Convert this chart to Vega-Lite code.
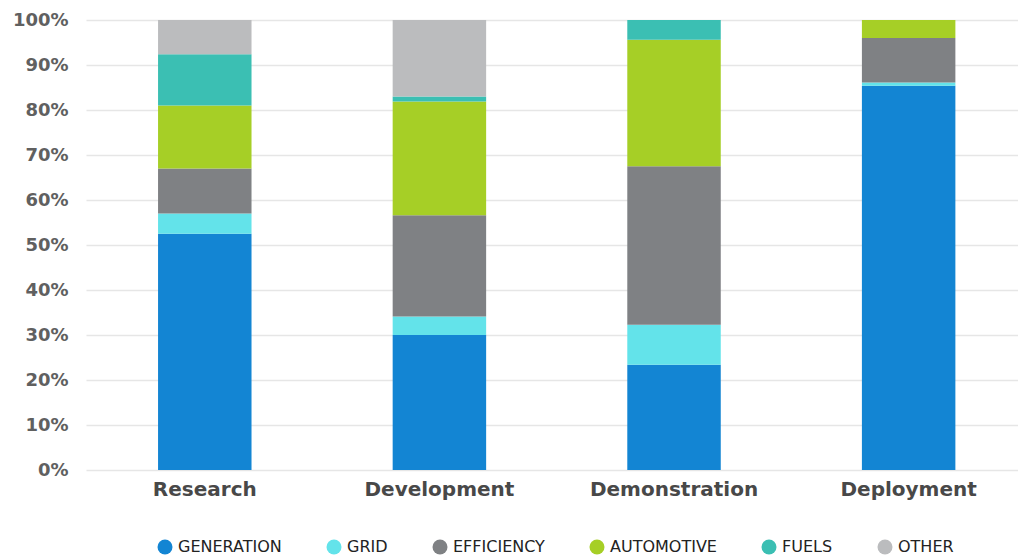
{
  "$schema": "https://vega.github.io/schema/vega-lite/v6.json",
  "width": 932,
  "height": 450,
  "autosize": {"type": "none"},
  "padding": {"left": 86, "top": 20, "right": 0, "bottom": 86},
  "background": "white",
  "config": {
    "view": {"stroke": null},
    "font": "DejaVu Sans"
  },
  "data": {
    "values": [
      {"stage": "Research", "sector": "GENERATION", "share": 52.5},
      {"stage": "Research", "sector": "GRID", "share": 4.5},
      {"stage": "Research", "sector": "EFFICIENCY", "share": 10},
      {"stage": "Research", "sector": "AUTOMOTIVE", "share": 14},
      {"stage": "Research", "sector": "FUELS", "share": 11.4},
      {"stage": "Research", "sector": "OTHER", "share": 7.6},
      {"stage": "Development", "sector": "GENERATION", "share": 30},
      {"stage": "Development", "sector": "GRID", "share": 4.1},
      {"stage": "Development", "sector": "EFFICIENCY", "share": 22.5},
      {"stage": "Development", "sector": "AUTOMOTIVE", "share": 25.3},
      {"stage": "Development", "sector": "FUELS", "share": 1.1},
      {"stage": "Development", "sector": "OTHER", "share": 17},
      {"stage": "Demonstration", "sector": "GENERATION", "share": 23.4},
      {"stage": "Demonstration", "sector": "GRID", "share": 8.9},
      {"stage": "Demonstration", "sector": "EFFICIENCY", "share": 35.2},
      {"stage": "Demonstration", "sector": "AUTOMOTIVE", "share": 28.1},
      {"stage": "Demonstration", "sector": "FUELS", "share": 4.4},
      {"stage": "Demonstration", "sector": "OTHER", "share": 0},
      {"stage": "Deployment", "sector": "GENERATION", "share": 85.4},
      {"stage": "Deployment", "sector": "GRID", "share": 0.7},
      {"stage": "Deployment", "sector": "EFFICIENCY", "share": 9.9},
      {"stage": "Deployment", "sector": "AUTOMOTIVE", "share": 4},
      {"stage": "Deployment", "sector": "FUELS", "share": 0},
      {"stage": "Deployment", "sector": "OTHER", "share": 0}
    ]
  },
  "transform": [
    {"calculate": "indexof(['GENERATION','GRID','EFFICIENCY','AUTOMOTIVE','FUELS','OTHER'], datum.sector)", "as": "rank"}
  ],
  "mark": {"type": "bar"},
  "encoding": {
    "x": {
      "field": "stage",
      "type": "nominal",
      "sort": ["Research", "Development", "Demonstration", "Deployment"],
      "scale": {"paddingInner": 0.6016, "paddingOuter": 0.287, "align": 0.535},
      "axis": {
        "title": null,
        "labelAngle": 0,
        "domain": false,
        "ticks": false,
        "labelFontSize": 20,
        "labelFontWeight": "bold",
        "labelColor": "#484848",
        "labelPadding": 9,
        "labelFont": "DejaVu Sans"
      }
    },
    "y": {
      "field": "share",
      "type": "quantitative",
      "stack": "zero",
      "scale": {"domain": [0, 100], "nice": false},
      "axis": {
        "title": null,
        "values": [0, 10, 20, 30, 40, 50, 60, 70, 80, 90, 100],
        "labelExpr": "datum.value + '%'",
        "domain": false,
        "ticks": false,
        "labelFontSize": 18,
        "labelFontWeight": "bold",
        "labelColor": "#606060",
        "labelPadding": 18,
        "gridColor": "#e6e6e6",
        "gridWidth": 1.5,
        "labelFont": "DejaVu Sans"
      }
    },
    "order": {"field": "rank", "type": "quantitative", "sort": "ascending"},
    "color": {
      "field": "sector",
      "type": "nominal",
      "sort": ["GENERATION", "GRID", "EFFICIENCY", "AUTOMOTIVE", "FUELS", "OTHER"],
      "scale": {
        "domain": ["GENERATION", "GRID", "EFFICIENCY", "AUTOMOTIVE", "FUELS", "OTHER"],
        "range": ["#1385d3", "#63e3ea", "#7f8184", "#a6cf26", "#3bbfb3", "#bbbcbe"]
      },
      "legend": {
        "title": null,
        "orient": "none",
        "direction": "horizontal",
        "legendX": 71,
        "legendY": 519,
        "symbolType": "circle",
        "symbolSize": 225,
        "symbolStrokeWidth": 0,
        "symbolOpacity": 1,
        "labelFontSize": 16,
        "labelColor": "#222222",
        "labelFont": "DejaVu Sans",
        "columnPadding": 44,
        "labelOffset": 5,
        "padding": 0
      }
    }
  }
}
